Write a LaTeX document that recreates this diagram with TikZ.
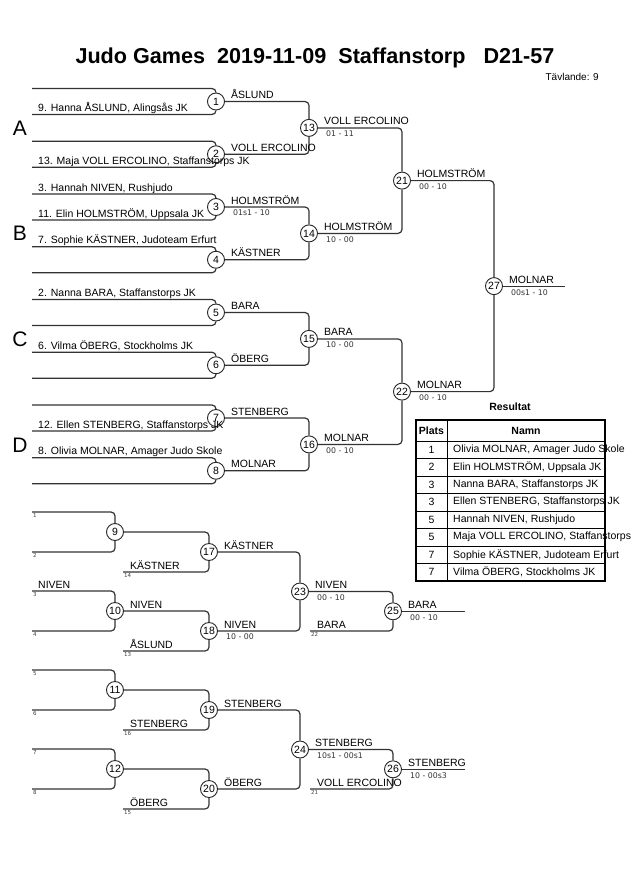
\documentclass[tikz,border=0pt]{standalone}
\usepackage{fontspec}
\setmainfont{Liberation Sans}
\newfontfamily\scorefont{DejaVu Sans}
\usetikzlibrary{positioning}

\tikzset{
  bline/.style={line width=1.2pt, draw=black!80, rounded corners=4pt},
  mnum/.style={circle, draw=black!85, line width=0.9pt, minimum size=17pt, inner sep=0pt, font=\fontsize{10.5}{12}\selectfont},
  pname/.style={anchor=base west, inner sep=0pt, font=\fontsize{10.5}{12}\selectfont},
  wname/.style={anchor=base west, inner sep=0pt, xshift=6pt, yshift=3pt, font=\fontsize{10.5}{12}\selectfont},
  score/.style={anchor=north west, inner sep=0pt, xshift=8pt, yshift=-3pt, font=\scorefont\fontsize{7.8}{9}\selectfont, text=black!80},
  lnum/.style={anchor=north west, inner sep=0pt, xshift=1pt, yshift=-1.5pt, font=\scorefont\fontsize{5.5}{6}\selectfont, text=black!75},
  pool/.style={inner sep=0pt, font=\fontsize{21}{24}\selectfont},
}

\begin{document}
\begin{tikzpicture}[x=1pt,y=-1pt]
\useasboundingbox (0,0) rectangle (630,891);

% heading
\node[font=\bfseries\fontsize{21.6}{24}\selectfont] (title) at (315,58) {Judo Games\ \ 2019-11-09\ \ Staffanstorp\ \ \ D21-57};
\node[anchor=east, inner sep=0pt, font=\fontsize{10}{11}\selectfont] (tav) at (599,77) {Tävlande: 9};

% pools
\node[pool] (gA) at (20,128) {A};
\node[pool] (gB) at (20,233) {B};
\node[pool] (gC) at (20,339) {C};
\node[pool] (gD) at (20,445) {D};

% first round
\foreach \k/\up/\dn in {1/{}/{9. Hanna ÅSLUND, Alingsås JK}, 2/{}/{13. Maja VOLL ERCOLINO, Staffanstorps JK}, 3/{3. Hannah NIVEN, Rushjudo}/{11. Elin HOLMSTRÖM, Uppsala JK}, 4/{7. Sophie KÄSTNER, Judoteam Erfurt}/{}, 5/{2. Nanna BARA, Staffanstorps JK}/{}, 6/{6. Vilma ÖBERG, Stockholms JK}/{}, 7/{}/{12. Ellen STENBERG, Staffanstorps JK}, 8/{8. Olivia MOLNAR, Amager Judo Skole}/{}}{
  \pgfmathsetmacro{\yy}{101.5+52.75*(\k-1)}
  \node[mnum] (m\k) at (216,\yy) {\k};
  \coordinate (t\k) at (32,\yy-13);
  \coordinate (b\k) at (32,\yy+13);
  \draw[bline] (t\k) -| (m\k.north);
  \draw[bline] (b\k) -| (m\k.south);
  \node[pname] (nt\k) at ([shift={(6pt,3pt)}]t\k) {\up};
  \node[pname] (nb\k) at ([shift={(6pt,3pt)}]b\k) {\dn};
}

% later rounds
\node[mnum] (m13) at (309,127.9) {13};
\node[mnum] (m14) at (309,233.4) {14};
\node[mnum] (m15) at (309,338.9) {15};
\node[mnum] (m16) at (309,444.4) {16};
\node[mnum] (m21) at (402,180.6) {21};
\node[mnum] (m22) at (402,391.6) {22};
\node[mnum] (m27) at (494,286.1) {27};
\coordinate (fin) at (565,0);

\foreach \a/\b/\c in {1/2/13, 3/4/14, 5/6/15, 7/8/16, 13/14/21, 15/16/22, 21/22/27}{
  \draw[bline] (m\a.east) -| (m\c.north);
  \draw[bline] (m\b.east) -| (m\c.south);
}
\draw[bline] (m27.east) -- (m27.east -| fin);

\foreach \k/\w/\s in {1/ÅSLUND/{}, 2/VOLL ERCOLINO/{}, 3/HOLMSTRÖM/{01s1 - 10}, 4/KÄSTNER/{}, 5/BARA/{}, 6/ÖBERG/{}, 7/STENBERG/{}, 8/MOLNAR/{}, 13/VOLL ERCOLINO/{01 - 11}, 14/HOLMSTRÖM/{10 - 00}, 15/BARA/{10 - 00}, 16/MOLNAR/{00 - 10}, 21/HOLMSTRÖM/{00 - 10}, 22/MOLNAR/{00 - 10}, 27/MOLNAR/{00s1 - 10}}{
  \node[wname] (w\k) at (m\k.east) {\w};
  \node[score] (s\k) at (m\k.east) {\s};
}

% repechage
\node[mnum] (m9)  at (115,532) {9};
\node[mnum] (m10) at (115,611) {10};
\node[mnum] (m11) at (115,690) {11};
\node[mnum] (m12) at (115,769) {12};
\node[mnum] (m17) at (209,552) {17};
\node[mnum] (m18) at (209,631) {18};
\node[mnum] (m19) at (209,710) {19};
\node[mnum] (m20) at (209,789) {20};
\node[mnum] (m23) at (300,591.5) {23};
\node[mnum] (m24) at (300,749.5) {24};
\node[mnum] (m25) at (393,611.3) {25};
\node[mnum] (m26) at (393,769.3) {26};
\coordinate (rend) at (465,0);

\foreach \a/\b/\c/\y in {1/2/9/512, 3/4/10/591, 5/6/11/670, 7/8/12/749}{
  \coordinate (ra\a) at (32,\y);
  \coordinate (ra\b) at (32,\y+40);
  \draw[bline] (ra\a) -| (m\c.north);
  \draw[bline] (ra\b) -| (m\c.south);
  \node[lnum] (la\a) at (ra\a) {\a};
  \node[lnum] (la\b) at (ra\b) {\b};
}
\node[pname] (nr3) at ([shift={(6pt,3pt)}]ra3) {NIVEN};

\foreach \a/\c/\n/\x/\y/\w in {9/17/14/123/572/KÄSTNER, 10/18/13/123/651/ÅSLUND, 11/19/16/123/730/STENBERG, 12/20/15/123/809/ÖBERG, 23/25/22/310/631/BARA, 24/26/21/310/789/VOLL ERCOLINO}{
  \coordinate (rb\n) at (\x,\y);
  \draw[bline] (m\a.east) -| (m\c.north);
  \draw[bline] (rb\n) -| (m\c.south);
  \node[pname] (nb\n) at ([shift={(7pt,3pt)}]rb\n) {\w};
  \node[lnum] (lb\n) at (rb\n) {\n};
}
\draw[bline] (m17.east) -| (m23.north);
\draw[bline] (m18.east) -| (m23.south);
\draw[bline] (m19.east) -| (m24.north);
\draw[bline] (m20.east) -| (m24.south);
\draw[bline] (m25.east) -- (m25.east -| rend);
\draw[bline] (m26.east) -- (m26.east -| rend);

\foreach \k/\w/\s in {10/NIVEN/{}, 17/KÄSTNER/{}, 18/NIVEN/{10 - 00}, 19/STENBERG/{}, 20/ÖBERG/{}, 23/NIVEN/{00 - 10}, 24/STENBERG/{10s1 - 00s1}, 25/BARA/{00 - 10}, 26/STENBERG/{10 - 00s3}}{
  \node[wname] (w\k) at (m\k.east) {\w};
  \node[score] (s\k) at (m\k.east) {\s};
}

% results
\node[font=\bfseries\fontsize{10.5}{12}\selectfont] (res) at (510,407) {Resultat};
\foreach \r in {0,...,7}
  \draw[line width=0.8pt] (416,{441+17.5*\r}) -- (605,{441+17.5*\r});
\draw[line width=0.8pt] (447,420) -- (447,581);
\draw[line width=1.8pt] (416,420) rectangle (605,581);
\node[font=\bfseries\fontsize{10.5}{12}\selectfont] (hp) at (431.5,430.5) {Plats};
\node[font=\bfseries\fontsize{10.5}{12}\selectfont] (hn) at (526,430.5) {Namn};
\foreach \r/\p/\n in {1/1/{Olivia MOLNAR, Amager Judo Skole}, 2/2/{Elin HOLMSTRÖM, Uppsala JK}, 3/3/{Nanna BARA, Staffanstorps JK}, 4/3/{Ellen STENBERG, Staffanstorps JK}, 5/5/{Hannah NIVEN, Rushjudo}, 6/5/{Maja VOLL ERCOLINO, Staffanstorps JK}, 7/7/{Sophie KÄSTNER, Judoteam Erfurt}, 8/7/{Vilma ÖBERG, Stockholms JK}}{
  \node[font=\fontsize{10.5}{12}\selectfont] (pl\r) at (431.5,{441+17.5*\r-8.75}) {\p};
  \node[anchor=west, inner sep=0pt, font=\fontsize{10.5}{12}\selectfont] (nm\r) at (453,{441+17.5*\r-8.75}) {\n};
}
\end{tikzpicture}
\end{document}
